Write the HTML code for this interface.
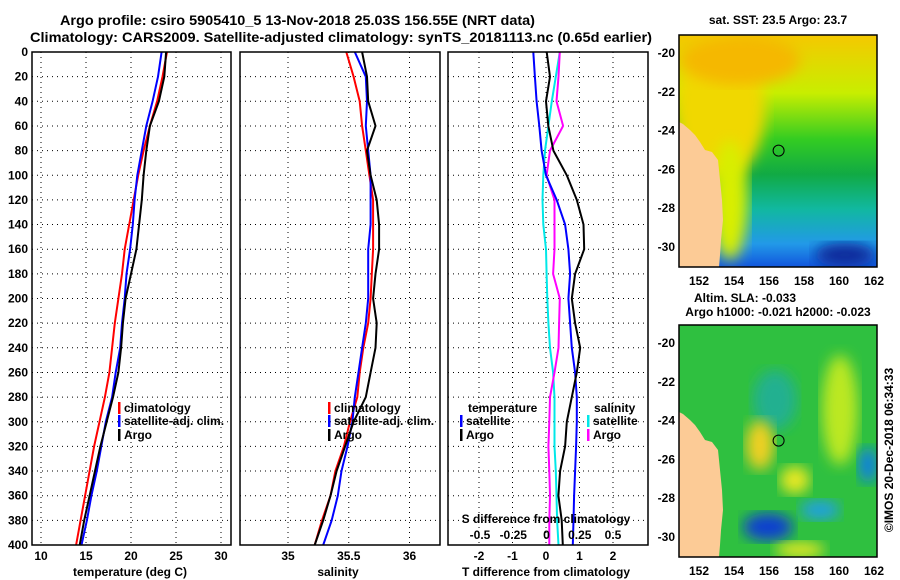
<!DOCTYPE html>
<html><head><meta charset="utf-8"><style>
body{margin:0;background:#fff}
svg{display:block;font-family:"Liberation Sans",sans-serif;font-weight:bold}
text{font-size:12px;fill:#000}
</style></head><body>
<svg id="chart" width="900" height="580" viewBox="0 0 900 580" xmlns="http://www.w3.org/2000/svg">
<defs>
<linearGradient id="sstg" x1="0" y1="0" x2="0" y2="1">
<stop offset="0" stop-color="#f5c800"/><stop offset="0.25" stop-color="#c8ee00"/><stop offset="0.45" stop-color="#33cc22"/><stop offset="0.6" stop-color="#11aa44"/><stop offset="0.75" stop-color="#11b8a0"/><stop offset="0.9" stop-color="#2299e8"/><stop offset="1" stop-color="#1155dd"/></linearGradient>
<filter id="blur"><feGaussianBlur stdDeviation="7"/></filter>
<clipPath id="c1"><rect x="679" y="35" width="198" height="232"/></clipPath>
<clipPath id="c2"><rect x="679" y="325" width="198" height="232"/></clipPath>
</defs>
<text x="60" y="25" textLength="475" lengthAdjust="spacingAndGlyphs" style="font-size:14px">Argo profile: csiro 5905410_5 13-Nov-2018 25.03S 156.55E (NRT data)</text>
<text x="30" y="42" textLength="622" lengthAdjust="spacingAndGlyphs" style="font-size:14px">Climatology: CARS2009. Satellite-adjusted climatology: synTS_20181113.nc (0.65d earlier)</text>
<g id="plots"></g>
<g clip-path="url(#c1)">
<rect x="679" y="35" width="198" height="232" fill="url(#sstg)"/>
<ellipse cx="720" cy="110" rx="45" ry="70" fill="#f0d800" filter="url(#blur)"/>
<ellipse cx="740" cy="60" rx="60" ry="25" fill="#f5b800" filter="url(#blur)"/>
<ellipse cx="730" cy="200" rx="18" ry="60" fill="#d8ee00" filter="url(#blur)"/>
<ellipse cx="845" cy="255" rx="30" ry="12" fill="#0a2a9a" filter="url(#blur)"/>
<polygon fill="#fccb96" points="679,122 683,124 690,130 695,135 700,142 705,150 712,152 718,160 720,180 722,200 723,220 721,240 720,255 719,267 679,267"/>
<circle cx="778.6" cy="150.6" r="5.5" fill="none" stroke="#000"/>
</g>
<rect x="679" y="35" width="198" height="232" fill="none" stroke="#000" stroke-width="1.5"/>
<g clip-path="url(#c2)">
<rect x="679" y="325" width="198" height="232" fill="#2fc040"/>
<ellipse cx="775" cy="400" rx="22" ry="30" fill="#22b090" filter="url(#blur)"/>
<ellipse cx="760" cy="445" rx="14" ry="25" fill="#f0d020" filter="url(#blur)"/>
<ellipse cx="795" cy="480" rx="15" ry="14" fill="#e8e820" filter="url(#blur)"/>
<ellipse cx="840" cy="410" rx="18" ry="55" fill="#bbe820" filter="url(#blur)"/>
<ellipse cx="768" cy="527" rx="25" ry="14" fill="#1040d0" filter="url(#blur)"/>
<ellipse cx="820" cy="510" rx="20" ry="10" fill="#22a0e0" filter="url(#blur)"/>
<ellipse cx="868" cy="465" rx="10" ry="18" fill="#1080e0" filter="url(#blur)"/>
<ellipse cx="800" cy="550" rx="25" ry="8" fill="#e8e820" filter="url(#blur)"/>
<polygon fill="#fccb96" points="679,412 683,414 690,420 695,425 700,432 705,440 712,442 718,450 720,470 722,490 723,510 721,530 720,545 719,557 679,557"/>
<circle cx="778.6" cy="440.6" r="5.5" fill="none" stroke="#000"/>
</g>
<rect x="679" y="325" width="198" height="232" fill="none" stroke="#000" stroke-width="1.5"/>
<text x="778" y="24" text-anchor="middle">sat. SST: 23.5 Argo: 23.7</text>
<text x="745" y="302" text-anchor="middle">Altim. SLA: -0.033</text>
<text x="778" y="316" text-anchor="middle">Argo h1000: -0.021 h2000: -0.023</text>
<text transform="translate(893,450) rotate(-90)" text-anchor="middle">©IMOS 20-Dec-2018 06:34:33</text>
<g id="maps"></g>
</svg>
<script>
const depths=[0,20,40,60,80,100,120,140,160,180,200,220,240,260,280,300,320,340,360,380,400];
const tempClim=[24.0,23.5,22.9,22.1,21.4,20.8,20.3,19.8,19.3,19.0,18.6,18.2,17.9,17.6,17.1,16.5,15.9,15.4,14.9,14.4,13.9];
const tempSat=[23.4,23.0,22.4,21.7,21.2,20.7,20.4,20.2,19.9,19.5,19.3,19.0,18.8,18.3,17.9,17.2,16.7,16.2,15.6,15.1,14.5];
const tempArgo=[23.9,23.7,23.1,22.1,21.7,21.4,21.2,20.9,20.6,20.0,19.4,19.1,18.9,18.6,18.0,17.3,16.6,16.0,15.4,14.8,14.3];
const salClim=[35.48,35.54,35.59,35.61,35.64,35.67,35.70,35.70,35.70,35.69,35.68,35.66,35.62,35.59,35.57,35.51,35.46,35.39,35.35,35.28,35.22];
const salSat=[35.55,35.64,35.65,35.64,35.66,35.68,35.68,35.68,35.66,35.66,35.66,35.64,35.61,35.58,35.55,35.53,35.49,35.44,35.41,35.36,35.29];
const salArgo=[35.61,35.65,35.66,35.72,35.65,35.68,35.73,35.75,35.75,35.72,35.70,35.73,35.72,35.68,35.64,35.54,35.47,35.40,35.35,35.29,35.22];
const tDiffSat=[-0.38,-0.33,-0.28,-0.2,-0.13,0,0.32,0.57,0.67,0.72,0.67,0.72,0.77,0.87,0.92,0.92,0.9,0.87,0.84,0.82,0.8];
const tDiffArgo=[0.02,0.12,0,0.07,0.22,0.62,0.92,1.12,1.14,0.87,0.77,0.87,1.02,0.92,0.77,0.62,0.57,0.42,0.37,0.47,0.5];
const sDiffSat=[0.10,0.07,0.04,0.014,-0.011,-0.024,-0.03,-0.024,-0.004,0.001,0.006,0.014,0.026,0.05,0.06,0.06,0.06,0.07,0.075,0.08,0.09];
const sDiffArgo=[0.10,0.09,0.075,0.125,0.026,0.001,0.06,0.06,0.06,0.05,0.1,0.095,0.09,0.06,0.026,0.021,0.014,0.021,0.026,0.021,0.021];
const depthTicks=[0,20,40,60,80,100,120,140,160,180,200,220,240,260,280,300,320,340,360,380,400];
const tempTicks=[10,15,20,25,30];
const salTicks=[35,35.5,36];
const tDiffTicks=[-2,-1,0,1,2];
const sDiffTicks=[-0.5,-0.25,0,0.25,0.5];
const lonTicks=[152,154,156,158,160,162];
const latTicks=[-20,-22,-24,-26,-28,-30];

const NS='http://www.w3.org/2000/svg';
const Y0=52,YH=493;
const yD=d=>Y0+d*(YH/400);
const xT=t=>41+(t-10)*9;
const xS=s=>288+(s-35)*121.5;
const xTD=v=>546+v*33.5;
const xSD=v=>546.5+v*133;
const xLon=l=>699+(l-152)*17.5;
function mk(tag,attrs,parent,txt){const e=document.createElementNS(NS,tag);for(const k in attrs)e.setAttribute(k,attrs[k]);if(txt!==undefined)e.textContent=txt;parent.appendChild(e);return e;}
const plots=document.getElementById('plots');
const panels=[{x0:32,x1:231,name:'temperature-panel'},{x0:240,x1:440,name:'salinity-panel'},{x0:448,x1:648,name:'difference-panel'}];
panels.forEach((p,i)=>{
  const g=mk('g',{},plots);
  
  
  depthTicks.forEach(d=>{
    const l=mk('line',{x1:p.x0,x2:p.x1,y1:yD(d),y2:yD(d),stroke:'#000','stroke-dasharray':'1,4','stroke-width':1},g);
    
    
  });
  p.g=g;
});
function vgrid(g,ticks,fx,x0,x1){ticks.forEach(t=>{const x=fx(t);if(x>x0&&x<x1){const l=mk('line',{x1:x,x2:x,y1:Y0,y2:Y0+YH,stroke:'#000','stroke-dasharray':'1,4'},g);

}});}
vgrid(panels[0].g,tempTicks,xT,32,231);
vgrid(panels[1].g,salTicks,xS,240,440);
vgrid(panels[2].g,tDiffTicks,xTD,448,648);
depthTicks.forEach(d=>{const t=mk('text',{x:28,y:yD(d)+4,'text-anchor':'end'},plots,String(d));

});
function ticklabels(ticks,fx,y,name){ticks.forEach(v=>{const t=mk('text',{x:fx(v),y:y,'text-anchor':'middle'},plots,String(v));

});}
ticklabels(tempTicks,xT,560,'temperature-tick-label');
ticklabels(salTicks,xS,560,'salinity-tick-label');
ticklabels(tDiffTicks,xTD,560,'t-diff-tick-label');
ticklabels(sDiffTicks,xSD,539,'s-diff-tick-label');
function line(vals,fx,color,name,g){const pts=vals.map((v,i)=>fx(v).toFixed(1)+','+yD(depths[i]).toFixed(1)).join(' ');
const pl=mk('polyline',{points:pts,fill:'none',stroke:color,'stroke-width':2,'stroke-linejoin':'round'},g);

}
line(tempClim,xT,'#f00','temp-climatology-line',panels[0].g);
line(tempSat,xT,'#00f','temp-satellite-line',panels[0].g);
line(tempArgo,xT,'#000','temp-argo-line',panels[0].g);
line(salClim,xS,'#f00','sal-climatology-line',panels[1].g);
line(salSat,xS,'#00f','sal-satellite-line',panels[1].g);
line(salArgo,xS,'#000','sal-argo-line',panels[1].g);
line(sDiffSat,xSD,'#00e8e8','s-diff-satellite-line',panels[2].g);
line(sDiffArgo,xSD,'#f0f','s-diff-argo-line',panels[2].g);
line(tDiffSat,xTD,'#00f','t-diff-satellite-line',panels[2].g);
line(tDiffArgo,xTD,'#000','t-diff-argo-line',panels[2].g);
panels.forEach(p=>{const r=mk('rect',{x:p.x0,y:Y0,width:p.x1-p.x0,height:YH,fill:'none',stroke:'#000','stroke-width':1.5},plots);

});
function legend(x,y,color,label){const b=mk('rect',{x:x,y:y-10,width:2.5,height:12,fill:color},plots);


const t=mk('text',{x:x+6,y:y},plots,label);

}
legend(118,412,'#f00','climatology');legend(118,425,'#00f','satellite-adj. clim.');legend(118,439,'#000','Argo');
legend(328,412,'#f00','climatology');legend(328,425,'#00f','satellite-adj. clim.');legend(328,439,'#000','Argo');
legend(460,425,'#00f','satellite');legend(460,439,'#000','Argo');
legend(587,425,'#00e8e8','satellite');legend(587,439,'#f0f','Argo');
const lbls=[[468,412,'temperature','legend-title-temperature'],[594,412,'salinity','legend-title-salinity'],[546,523,'S difference from climatology','s-diff-axis-title'],
[130,576,'temperature (deg C)','x-axis-title-temperature'],[338,576,'salinity','x-axis-title-salinity'],[546,576,'T difference from climatology','x-axis-title-t-diff']];
lbls.forEach(([x,y,s,n],i)=>{const t=mk('text',{x:x,y:y,'text-anchor':i<2?'start':'middle'},plots,s);

});
const maps=document.getElementById('maps');
[35,325].forEach(top=>{
  lonTicks.forEach(l=>{const t=mk('text',{x:xLon(l),y:top+250,'text-anchor':'middle'},maps,String(l));
  
  });
  latTicks.forEach(l=>{const y=top+18+(-20-l)*19.4;
  const t=mk('text',{x:675,y:y+4,'text-anchor':'end'},maps,String(l));
  
  });
});
</script>
</body></html>
